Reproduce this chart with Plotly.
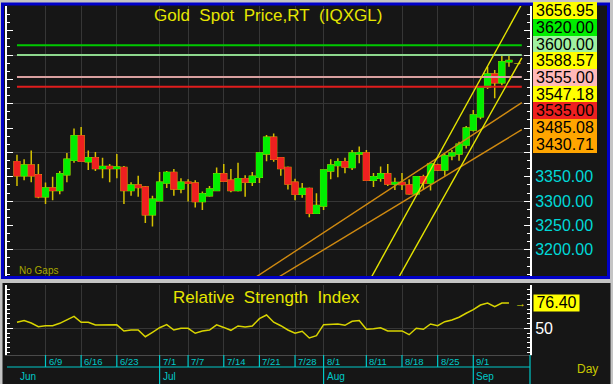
import pandas as pd
import plotly.graph_objects as go

W, H = 613, 384
FONT = "Liberation Sans, Arial, sans-serif"

# ---------------- data ----------------
dates = pd.bdate_range("2025-06-03", "2025-09-08")

opens = [3381, 3352, 3374, 3354, 3309, 3327, 3322, 3354, 3384, 3434,
         3381, 3389, 3367, 3371, 3367, 3369, 3322, 3333, 3329, 3272,
         3301, 3337, 3359, 3325, 3339, 3337, 3299, 3311, 3322, 3356,
         3343, 3322, 3346, 3339, 3349, 3397, 3431, 3389, 3369, 3339,
         3314, 3326, 3275, 3290, 3362, 3373, 3381, 3369, 3397, 3399,
         3343, 3347, 3356, 3335, 3338, 3333, 3315, 3350, 3337, 3374,
         3364, 3393, 3397, 3415, 3446, 3473, 3534, 3561, 3543, 3586]
highs = [3395, 3386, 3404, 3376, 3338, 3350, 3362, 3399, 3449, 3452,
         3404, 3401, 3389, 3376, 3397, 3372, 3339, 3352, 3331, 3311,
         3360, 3362, 3366, 3347, 3345, 3343, 3320, 3331, 3369, 3376,
         3366, 3379, 3353, 3360, 3401, 3436, 3439, 3389, 3371, 3346,
         3337, 3328, 3316, 3365, 3386, 3388, 3389, 3405, 3412, 3405,
         3358, 3371, 3376, 3348, 3358, 3345, 3351, 3354, 3378, 3377,
         3397, 3405, 3422, 3454, 3487, 3536, 3576, 3569, 3600, 3600]
lows = [3331, 3343, 3339, 3306, 3294, 3302, 3314, 3339, 3379, 3382,
        3364, 3362, 3347, 3339, 3347, 3294, 3311, 3309, 3255, 3248,
        3301, 3327, 3311, 3316, 3299, 3287, 3282, 3309, 3322, 3341,
        3318, 3320, 3309, 3331, 3337, 3382, 3381, 3352, 3324, 3302,
        3307, 3267, 3275, 3282, 3345, 3349, 3357, 3364, 3378, 3343,
        3329, 3340, 3331, 3323, 3323, 3313, 3313, 3323, 3322, 3362,
        3352, 3384, 3383, 3408, 3443, 3468, 3530, 3511, 3538, 3576]
closes = [3352, 3374, 3352, 3309, 3327, 3322, 3356, 3386, 3434, 3382,
          3389, 3367, 3371, 3367, 3370, 3322, 3333, 3328, 3272, 3304,
          3339, 3359, 3325, 3339, 3337, 3299, 3315, 3325, 3356, 3341,
          3322, 3346, 3339, 3351, 3399, 3431, 3386, 3367, 3335, 3314,
          3326, 3275, 3291, 3364, 3374, 3381, 3370, 3399, 3399, 3343,
          3350, 3356, 3335, 3338, 3334, 3315, 3350, 3337, 3376, 3364,
          3393, 3399, 3417, 3450, 3477, 3534, 3561, 3543, 3586, 3588.57]

rsi = [56.3, 58.0, 55.5, 51.7, 52.7, 52.7, 55.2, 58.7, 62.5, 56.3,
       56.3, 53.4, 53.4, 53.4, 53.6, 47.2, 48.2, 48.2, 41.2, 45.8,
       50.6, 53.8, 48.2, 50.0, 50.0, 44.8, 47.2, 48.2, 53.6, 50.9,
       47.9, 52.4, 51.4, 52.4, 60.0, 63.9, 56.3, 52.7, 48.2, 44.8,
       46.9, 39.9, 42.3, 53.8, 54.5, 54.5, 53.1, 57.3, 58.0, 49.0,
       49.6, 50.6, 47.2, 47.2, 47.2, 43.3, 50.0, 49.0, 54.5, 52.7,
       56.9, 58.7, 61.5, 65.7, 69.4, 74.3, 76.4, 72.5, 76.4, 76.40]

level_values = [3620.00, 3600.00, 3555.00, 3535.00]
level_colors = ["#00c800", "#8ed88e", "#d8a0a0", "#e01c1c"]

# trend lines: (bar index, price) anchors
yellow_upper_x = [49.75, 69]
yellow_upper_y = [3145.0, 3656.95]
yellow_lower_x = [53.6, 69]
yellow_lower_y = [3145.0, 3547.18]
orange_upper_x = [33.6, 69]
orange_upper_y = [3145.0, 3485.08]
orange_lower_x = [36.8, 69]
orange_lower_y = [3145.0, 3430.71]

label_values = [3656.95, 3620.00, 3600.00, 3588.57, 3555.00, 3547.18, 3535.00, 3485.08, 3430.71]
label_colors = ["#ffff00", "#00ee00", "#a0f0a0", "#ffff00", "#ffb8b8", "#ffff00", "#ee2020", "#ffa500", "#ffa500"]

price_ticks = [3200, 3250, 3300, 3350, 3400, 3450, 3500, 3550, 3600, 3650]
price_tick_labels = ["3200.00", "3250.00", "3300.00", "3350.00", "", "", "", "", "", ""]
week_ticks = ["6/9", "6/16", "6/23", "7/1", "7/7", "7/14", "7/21", "7/28", "8/1", "8/11", "8/18", "8/25", "9/1"]
month_ticks = ["Jun", "Jul", "Aug", "Sep"]
rsi_last = 76.40

# ---------------- derived ----------------
x_idx = list(range(len(dates)))
date_keys = [f"{d.month}/{d.day}" for d in dates]
week_idx = [date_keys.index(t) for t in week_ticks]
month_idx = [next(i for i, d in enumerate(dates) if d.strftime("%b") == m) for m in month_ticks]

X_RANGE = [-1.40, 71.95]
PRICE_RANGE = [3146.3, 3700.6]
RSI_RANGE = [22.1, 95.2]
X_END = 70.8

BG = "#161616"
GRID = "#363636"
WICK = "#d4c000"
GREEN = "#00ee00"
RED = "#ee2020"
CYAN = "#00c8c8"
YEL = "#e6e600"


def pxx(p):
    return p / W


def pxy(p):
    return 1 - p / H


def extend(xs, ys, x_end):
    slope = (ys[1] - ys[0]) / (xs[1] - xs[0])
    return [xs[0], x_end], [ys[0], ys[0] + slope * (x_end - xs[0])]


fig = go.Figure()

# candles: wicks then bodies
fig.add_trace(go.Candlestick(
    x=x_idx, open=opens, high=highs, low=lows, close=closes,
    increasing=dict(line=dict(color=WICK, width=1.5), fillcolor=WICK),
    decreasing=dict(line=dict(color=WICK, width=1.5), fillcolor=WICK),
    whiskerwidth=0, showlegend=False, hoverinfo="skip"))
fig.add_trace(go.Candlestick(
    x=x_idx, open=opens, close=closes,
    high=[max(o, c) for o, c in zip(opens, closes)],
    low=[min(o, c) for o, c in zip(opens, closes)],
    increasing=dict(line=dict(color=GREEN, width=1), fillcolor=GREEN),
    decreasing=dict(line=dict(color=RED, width=1), fillcolor=RED),
    whiskerwidth=0, showlegend=False, hoverinfo="skip"))

for v, c in zip(level_values, level_colors):
    fig.add_trace(go.Scatter(x=[0, X_END], y=[v, v], mode="lines",
                             line=dict(color=c, width=2), showlegend=False, hoverinfo="skip"))

for xs, ys, c in [(orange_upper_x, orange_upper_y, "#d08a10"),
                  (orange_lower_x, orange_lower_y, "#d08a10"),
                  (yellow_upper_x, yellow_upper_y, "#e6e600"),
                  (yellow_lower_x, yellow_lower_y, "#e6e600")]:
    ex, ey = extend(xs, ys, X_END)
    fig.add_trace(go.Scatter(x=ex, y=ey, mode="lines", line=dict(color=c, width=1.4),
                             showlegend=False, hoverinfo="skip"))

# ruler / grid helper traces
fig.add_trace(go.Scatter(x=[None], y=[None], yaxis="y3", showlegend=False))
fig.add_trace(go.Scatter(x=[None], y=[None], yaxis="y4", showlegend=False))

# RSI
fig.add_trace(go.Scatter(x=x_idx, y=rsi, mode="lines", line=dict(color="#d8d400", width=1.5),
                         xaxis="x2", yaxis="y2", showlegend=False, hoverinfo="skip"))
fig.add_trace(go.Scatter(x=[None], y=[None], xaxis="x2", yaxis="y5", showlegend=False))

price_dom = [pxy(276), pxy(6)]
rsi_dom = [pxy(355), pxy(285)]
x_dom = [pxx(7), pxx(530)]

ruler_minor = dict(ticks="inside", ticklen=3, tickcolor="white", tickwidth=1, showgrid=False)

fig.update_layout(
    width=W, height=H, margin=dict(l=0, r=0, t=0, b=0),
    paper_bgcolor="#c4c4c4", plot_bgcolor="rgba(0,0,0,0)",
    font=dict(family=FONT), showlegend=False,
    boxgap=0.1, boxgroupgap=0.1,
    xaxis=dict(domain=x_dom, range=X_RANGE, anchor="y", tickvals=week_idx, showticklabels=False,
               ticks="", showgrid=True, gridcolor=GRID, gridwidth=1, zeroline=False,
               rangeslider=dict(visible=False), fixedrange=True),
    xaxis2=dict(domain=x_dom, range=X_RANGE, anchor="y2", matches="x", tickvals=week_idx,
                showticklabels=False, ticks="", showgrid=True, gridcolor=GRID, zeroline=False,
                showline=True, linecolor="#4a4a4a", linewidth=1),
    yaxis=dict(domain=price_dom, range=PRICE_RANGE, anchor="x", side="right",
               tickvals=price_ticks, ticktext=price_tick_labels,
               tickfont=dict(color="#00d8d8", size=16, family=FONT),
               ticks="inside", ticklen=6, tickcolor="white", tickwidth=1,
               showline=True, linecolor="white", linewidth=2, showgrid=False, zeroline=False,
               minor=dict(tick0=3150, dtick=50 / 3, **ruler_minor)),
    yaxis3=dict(range=PRICE_RANGE, overlaying="y", anchor="x", side="left",
                tickvals=price_ticks, showticklabels=False, ticks="inside", ticklen=6,
                tickcolor="white", showline=True, linecolor="white", linewidth=2,
                showgrid=False, zeroline=False, minor=dict(tick0=3150, dtick=50 / 3, **ruler_minor)),
    yaxis4=dict(range=PRICE_RANGE, overlaying="y", anchor="x", side="left",
                tick0=3200, dtick=100, showticklabels=False, ticks="", showline=False,
                showgrid=True, gridcolor=GRID, zeroline=False),
    yaxis2=dict(domain=rsi_dom, range=RSI_RANGE, anchor="x2", side="right",
                tickvals=[50], ticktext=["50"], tickfont=dict(color="white", size=16, family=FONT),
                ticks="inside", ticklen=6, tickcolor="white",
                showline=True, linecolor="white", linewidth=2, showgrid=True, gridcolor=GRID,
                zeroline=False, minor=dict(tick0=0, dtick=5, **ruler_minor)),
    yaxis5=dict(range=RSI_RANGE, overlaying="y2", anchor="x2", side="left",
                tickvals=[50], showticklabels=False, ticks="inside", ticklen=6, tickcolor="white",
                showline=True, linecolor="white", linewidth=2, showgrid=False, zeroline=False,
                minor=dict(tick0=0, dtick=5, **ruler_minor)),
)

shapes = [
    dict(type="rect", xref="paper", yref="paper", x0=pxx(2.5), x1=pxx(608.5), y0=pxy(277.5), y1=pxy(4),
         fillcolor=BG, line=dict(color="#0000c8", width=3), layer="below"),
    dict(type="rect", xref="paper", yref="paper", x0=pxx(2.5), x1=pxx(610.5), y0=pxy(384), y1=pxy(283),
         fillcolor=BG, line=dict(width=0), layer="below"),
    dict(type="line", xref="paper", yref="paper", x0=pxx(7), x1=pxx(530), y0=pxy(367), y1=pxy(367),
         line=dict(color=CYAN, width=1.2)),
    dict(type="line", xref="paper", yref="paper", x0=pxx(530), x1=pxx(530), y0=pxy(355), y1=pxy(384),
         line=dict(color=CYAN, width=1.2)),
]
for i in week_idx:
    shapes.append(dict(type="line", xref="x2", yref="paper", x0=i, x1=i, y0=pxy(355), y1=pxy(367),
                       line=dict(color=CYAN, width=1.2)))
for i in month_idx[1:]:
    shapes.append(dict(type="line", xref="x2", yref="paper", x0=i, x1=i, y0=pxy(367), y1=pxy(384),
                       line=dict(color=CYAN, width=1.2)))

ann = []
ann.append(dict(text="Gold\u00a0 Spot\u00a0 Price,RT\u00a0 (IQXGL)", xref="paper", yref="paper",
                x=pxx(268), y=pxy(16), xanchor="center", yanchor="middle", showarrow=False,
                font=dict(color=YEL, size=17, family=FONT)))
ann.append(dict(text="Relative\u00a0 Strength\u00a0 Index", xref="paper", yref="paper",
                x=pxx(266), y=pxy(297), xanchor="center", yanchor="middle", showarrow=False,
                font=dict(color=YEL, size=17, family=FONT)))
ann.append(dict(text="No Gaps", xref="paper", yref="paper", x=pxx(17), y=pxy(270),
                xanchor="left", yanchor="middle", showarrow=False,
                font=dict(color="#a8a800", size=10, family=FONT)))

for k, (v, c) in enumerate(zip(label_values, label_colors)):
    ann.append(dict(text=f"{v:.2f}", xref="paper", yref="paper", x=pxx(533), y=pxy(10.6 + 16.72 * k),
                    xanchor="left", yanchor="middle", showarrow=False, width=64, height=16.7,
                    bgcolor=c, borderpad=0, borderwidth=0, align="center", valign="middle",
                    font=dict(color="black", size=16, family=FONT)))

ann.append(dict(text="→", xref="paper", yref="y", x=pxx(517), y=closes[-1], xanchor="center",
                yanchor="middle", showarrow=False, font=dict(color=YEL, size=11, family=FONT)))
ann.append(dict(text="→", xref="paper", yref="y2", x=pxx(520), y=rsi_last, xanchor="center",
                yanchor="middle", showarrow=False, font=dict(color=YEL, size=11, family=FONT)))
ann.append(dict(text=f"{rsi_last:.2f}", xref="paper", yref="y2", x=pxx(532.7), y=rsi_last,
                xanchor="left", yanchor="middle", showarrow=False, width=45, height=15.5,
                bgcolor="#ffff00", borderpad=0, align="center", valign="middle",
                font=dict(color="black", size=16, family=FONT)))

for t, i in zip(week_ticks, week_idx):
    ann.append(dict(text=t, xref="x2", yref="paper", x=i, xshift=1, y=pxy(361.5), xanchor="left",
                    yanchor="middle", showarrow=False, font=dict(color=CYAN, size=9.5, family=FONT)))
for t, i in zip(month_ticks, month_idx):
    ann.append(dict(text=t, xref="x2", yref="paper", x=i, xshift=1, y=pxy(376), xanchor="left",
                    yanchor="middle", showarrow=False, font=dict(color=CYAN, size=10, family=FONT)))
ann.append(dict(text="Day", xref="paper", yref="paper", x=pxx(587), y=pxy(369), xanchor="center",
                yanchor="middle", showarrow=False, font=dict(color="#c8c800", size=12, family=FONT)))

fig.update_layout(shapes=shapes, annotations=ann)
fig.write_html("out.html")
